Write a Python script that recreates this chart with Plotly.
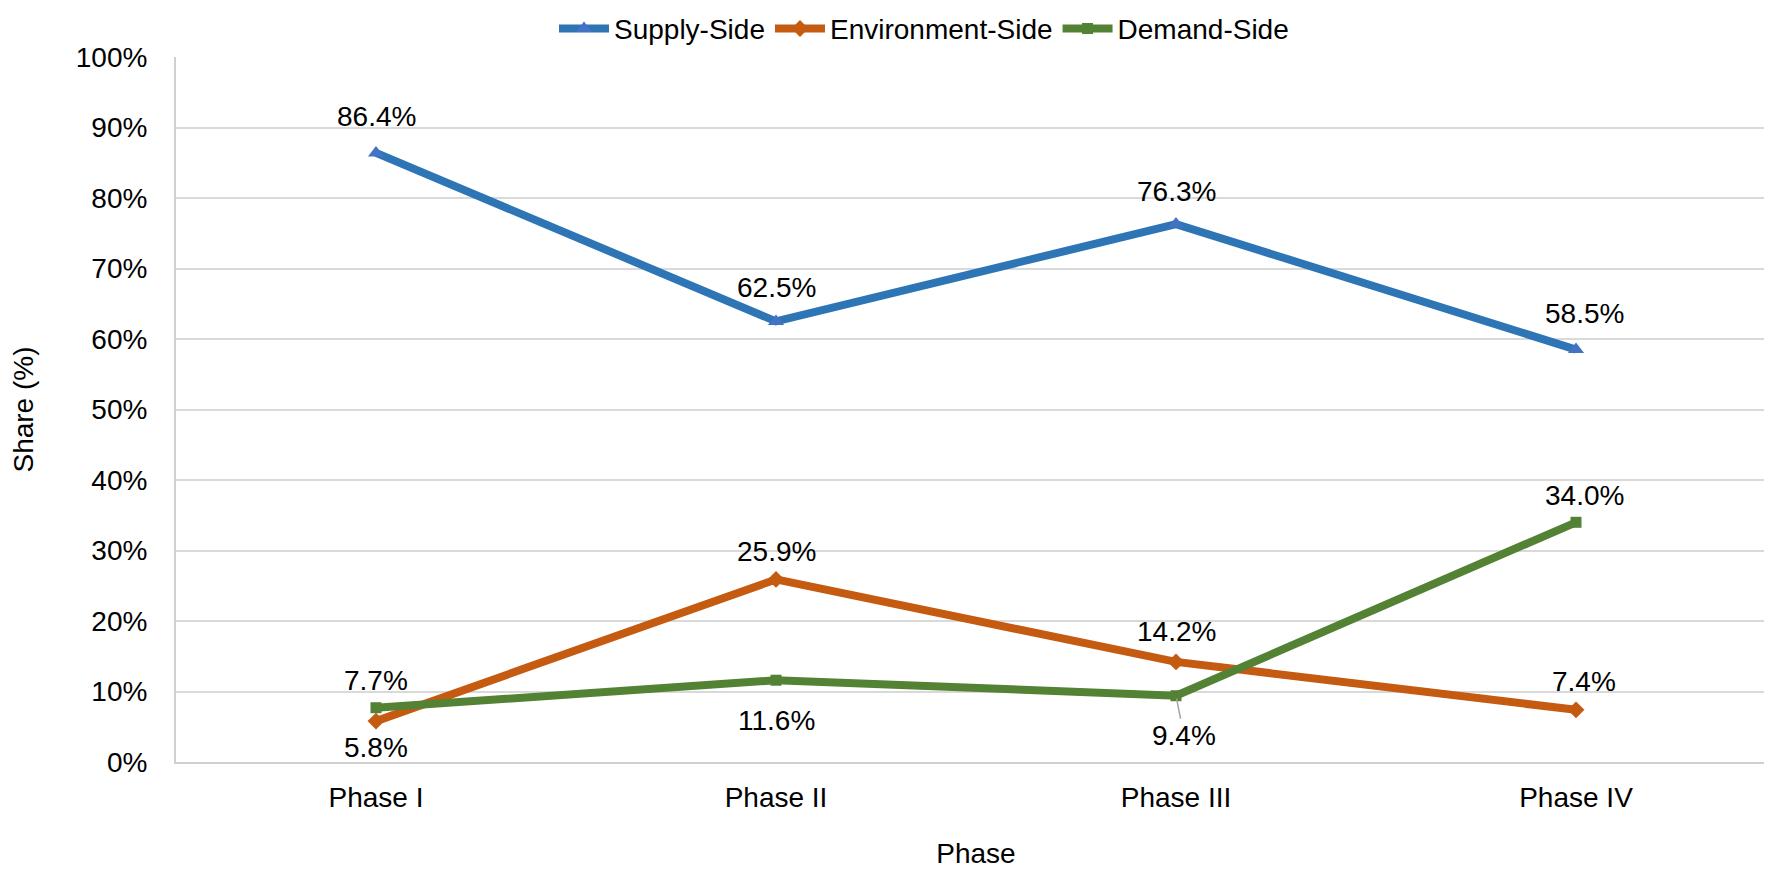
import plotly.graph_objects as go

phases = ["Phase I", "Phase II", "Phase III", "Phase IV"]
supply = [86.4, 62.5, 76.3, 58.5]
environment = [5.8, 25.9, 14.2, 7.4]
demand = [7.7, 11.6, 9.4, 34.0]

# label placement (pixel offsets from each point: dx, dy; negative dy = above)
supply_off = [(0, -36), (0, -34), (0, -33), (8, -36)]
env_off = [(0, 26), (0, -28), (0, -30), (8, -28)]
demand_off = [(0, -27), (0, 40), None, (8, -27)]

FONT = "Liberation Sans, Arial, sans-serif"
FS = 28

fig = go.Figure()
series = [
    ("Supply-Side", supply, "#2E75B6", "#4472C4", "triangle-up", 14, supply_off),
    ("Environment-Side", environment, "#C55A11", "#C55A11", "diamond", 13, env_off),
    ("Demand-Side", demand, "#548235", "#548235", "square", 11, demand_off),
]
for name, vals, lc, mc, sym, ms, offs in series:
    fig.add_trace(go.Scatter(
        x=phases, y=vals, name=name, mode="lines+markers",
        line=dict(color=lc, width=8),
        marker=dict(symbol=sym, size=ms, color=mc),
    ))
    for xv, v, off in zip(phases, vals, offs):
        if off is None:
            continue
        fig.add_annotation(
            x=xv, y=v, text=f"{v:.1f}%", showarrow=False,
            xshift=off[0], yshift=-off[1],
            font=dict(size=FS, color="#000000", family=FONT),
        )

# label with leader line for Phase III demand
i = 2
fig.add_annotation(
    x=phases[i], y=demand[i], text=f"{demand[i]:.1f}%",
    showarrow=True, arrowhead=0, arrowwidth=1.5, arrowcolor="#A6A6A6",
    ax=8, ay=40, standoff=3,
    font=dict(size=FS, color="#000000", family=FONT),
)

fig.update_layout(
    width=1772, height=869,
    paper_bgcolor="white", plot_bgcolor="white",
    margin=dict(l=168, r=4, t=49, b=115, autoexpand=False),
    font=dict(family=FONT, size=FS, color="#000000"),
    legend=dict(orientation="h", x=0.4675, xanchor="center", y=1.04, yanchor="middle",
                font=dict(size=FS), tracegroupgap=0, itemwidth=50),
    showlegend=True,
)
fig.update_xaxes(
    range=[-0.5, 3.5], showgrid=False, showline=True, linecolor="#D0D0D0", linewidth=2,
    ticks="", tickfont=dict(size=FS), ticklabelstandoff=9,
    title=dict(text="Phase", font=dict(size=FS), standoff=32),
)
fig.update_yaxes(
    range=[0, 100], dtick=10, ticksuffix="%", showgrid=True, gridcolor="#D9D9D9", gridwidth=2,
    showline=True, linecolor="#D0D0D0", linewidth=2, zeroline=False,
    tickfont=dict(size=FS), ticklabelstandoff=21,
    title=dict(text="Share (%)", font=dict(size=FS), standoff=43),
)

fig.write_html("out.html")
